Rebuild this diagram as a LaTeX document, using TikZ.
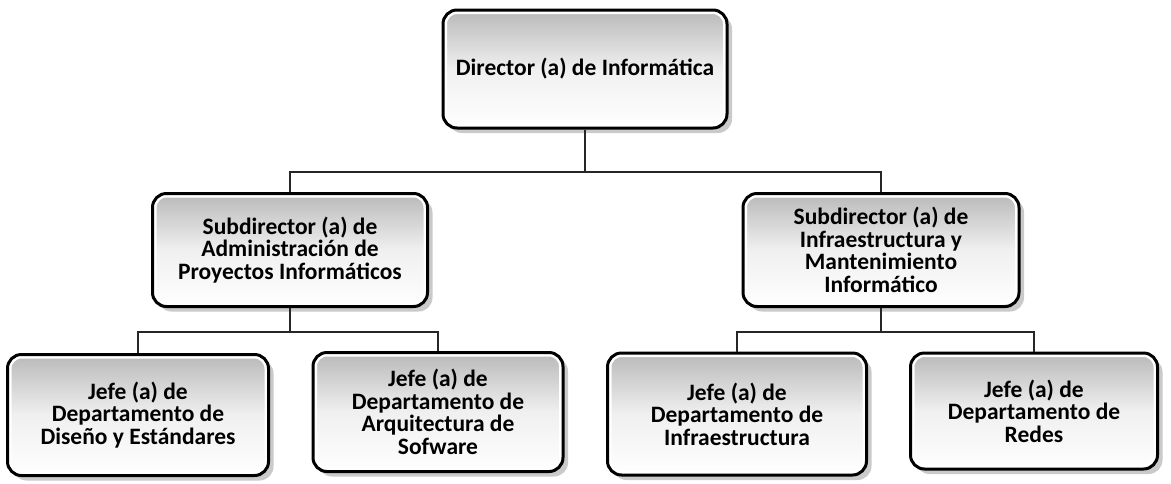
\documentclass[tikz,border=0pt]{standalone}
\usepackage{fontspec}
\setmainfont{Carlito}
\usetikzlibrary{shadows}

\tikzset{
  cargo/.style={draw=black, line width=3pt, rounded corners=14pt,
    top color=gray!55, bottom color=white, middle color=gray!12,
    align=center, font=\bfseries\fontsize{23.5}{22.5}\selectfont,
    drop shadow={shadow xshift=5pt, shadow yshift=-5pt, fill=gray!70, opacity=.6},
    path picture={\draw[white, line width=8pt, rounded corners=14pt]
      (path picture bounding box.south west) rectangle (path picture bounding box.north east);}},
  linea/.style={line width=1.4pt, draw=black!85}
}

\begin{document}
\begin{tikzpicture}[x=1pt,y=-1pt]
  \useasboundingbox (0,0) rectangle (1171,483);
  % director
  \node[cargo, minimum width=284pt, minimum height=118pt] (dir) at (585,69)
    {Director (a) de Informática};
  % subdirectores
  \node[cargo, minimum width=275pt, minimum height=113pt] (subA) at (290,250)
    {Subdirector (a) de\\Administración de\\Proyectos Informáticos};
  \node[cargo, minimum width=276pt, minimum height=113pt] (subB) at (881,250)
    {Subdirector (a) de\\Infraestructura y\\Mantenimiento\\Informático};
  % jefes de departamento
  \node[cargo, minimum width=261pt, minimum height=121pt] (jefeA) at (138,415)
    {Jefe (a) de\\Departamento de\\Diseño y Estándares};
  \node[cargo, minimum width=250pt, minimum height=119pt] (jefeB) at (438,412)
    {Jefe (a) de\\Departamento de\\Arquitectura de\\Sofware};
  \node[cargo, minimum width=259pt, minimum height=122pt] (jefeC) at (737,414)
    {Jefe (a) de\\Departamento de\\Infraestructura};
  \node[cargo, minimum width=247pt, minimum height=116pt] (jefeD) at (1034,411)
    {Jefe (a) de\\Departamento de\\Redes};
  % lineas
  \coordinate (busT) at (585,172);
  \coordinate (busA) at (290,332);
  \coordinate (busB) at (881,332);
  \draw[linea] (dir.south) -- (busT);
  \draw[linea] (subA.north) |- (busT) -| (subB.north);
  \draw[linea] (subA.south) -- (busA);
  \draw[linea] (jefeA.north) |- (busA) -| (jefeB.north);
  \draw[linea] (subB.south) -- (busB);
  \draw[linea] (jefeC.north) |- (busB) -| (jefeD.north);
\end{tikzpicture}
\end{document}
